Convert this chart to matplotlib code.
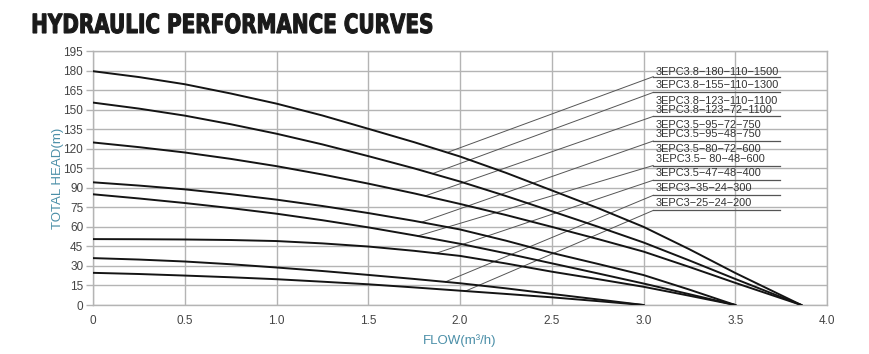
import numpy as np
import matplotlib
matplotlib.use("Agg")
from matplotlib import pyplot as plt
from matplotlib.patches import Rectangle, PathPatch
from matplotlib.textpath import TextPath
from matplotlib.font_manager import FontProperties
from matplotlib.transforms import Affine2D, IdentityTransform

# flow points (m3/h) for each pump family
flow_38 = [0, 0.25, 0.5, 0.75, 1.0, 1.25, 1.5, 1.75, 2.0, 2.25, 2.5, 2.75, 3.0, 3.25, 3.5, 3.86]
flow_35 = [0, 0.25, 0.5, 0.75, 1.0, 1.25, 1.5, 1.75, 2.0, 2.25, 2.5, 2.75, 3.0, 3.25, 3.5]
flow_30 = [0, 0.25, 0.5, 0.75, 1.0, 1.25, 1.5, 1.75, 2.0, 2.25, 2.5, 2.75, 3.0]

# head (m)
head_180 = [179.5, 175.0, 169.5, 162.4, 154.6, 145.5, 135.3, 125.0, 114.0, 101.5, 88.0, 74.5, 60.0, 42.8, 24.6, 0]
head_155 = [155.4, 150.8, 145.4, 138.8, 131.5, 123.3, 114.3, 104.9, 94.8, 83.7, 72.0, 60.2, 48.0, 34.2, 20.0, 0]
head_123 = [124.8, 121.2, 117.1, 112.2, 106.6, 100.2, 93.2, 85.7, 77.6, 69.1, 60.0, 50.7, 41.0, 29.2, 17.0, 0]
head_95 = [94.2, 91.7, 88.8, 85.1, 80.9, 76.0, 70.6, 64.6, 58.0, 49.4, 40.0, 31.6, 23.0, 11.8, 0]
head_80 = [85.0, 81.8, 78.3, 74.4, 70.1, 65.1, 59.6, 53.5, 47.0, 39.7, 32.0, 24.3, 16.5, 8.3, 0]
head_47 = [50.6, 50.5, 50.3, 49.9, 49.1, 47.3, 44.9, 41.6, 37.7, 31.9, 25.6, 19.9, 14.0, 7.1, 0]
head_35 = [36.0, 34.9, 33.4, 31.3, 28.8, 26.1, 23.1, 20.0, 16.7, 12.8, 8.5, 4.3, 0]
head_25 = [24.7, 23.8, 22.6, 21.3, 19.8, 17.9, 15.9, 13.5, 11.0, 8.5, 5.9, 3.0, 0]

curves = [
    (flow_38, head_180), (flow_38, head_155), (flow_38, head_123),
    (flow_35, head_95), (flow_35, head_80), (flow_35, head_47),
    (flow_30, head_35), (flow_30, head_25),
]

# model labels, grouped per curve
label_groups = [
    ["3EPC3.8\u2212180\u2212110\u22121500"],
    ["3EPC3.8\u2212155\u2212110\u22121300"],
    ["3EPC3.8\u2212123\u2212110\u22121100", "3EPC3.8\u2212123\u221272\u22121100"],
    ["3EPC3.5\u221295\u221272\u2212750", "3EPC3.5\u221295\u221248\u2212750"],
    ["3EPC3.5\u221280\u221272\u2212600", "3EPC3.5\u2212 80\u221248\u2212600"],
    ["3EPC3.5\u221247\u221248\u2212400"],
    ["3EPC3\u221235\u221224\u2212300"],
    ["3EPC3\u221225\u221224\u2212200"],
]

# where each leader line touches its curve
anchor_flow = [1.93, 1.85, 1.81, 1.79, 1.77, 1.87, 1.92, 2.03]

x_ticks = [0, 0.5, 1.0, 1.5, 2.0, 2.5, 3.0, 3.5, 4.0]
x_ticklabels = ["0", "0.5", "1.0", "1.5", "2.0", "2.5", "3.0", "3.5", "4.0"]
y_ticks = list(range(0, 196, 15))

plt.rcParams["font.family"] = ["Liberation Sans", "DejaVu Sans"]

fig = plt.figure(figsize=(8.7, 3.54), dpi=100)
ax = fig.add_axes([0.1069, 0.1384, 0.8437, 0.7175])

grid_col = "#b4b4b4"
ax.set_xlim(0, 4.0)
ax.set_ylim(0, 195)
ax.set_xticks(x_ticks)
ax.set_xticklabels(x_ticklabels)
ax.set_yticks(y_ticks)
ax.grid(True, color=grid_col, linewidth=1.0, zorder=0)
for s in ax.spines.values():
    s.set_color(grid_col)
    s.set_linewidth(1.0)
ax.tick_params(axis="y", length=5, width=1, color=grid_col, labelsize=8.5,
               labelcolor="#444444", pad=2)
ax.tick_params(axis="x", length=0, labelsize=8.5, labelcolor="#444444", pad=7)

axis_col = "#4b8fa8"
ax.set_ylabel("TOTAL HEAD(m)", color=axis_col, fontsize=9.5)
ax.yaxis.set_label_coords(-0.040, 0.5)
ax.set_xlabel("FLOW(m³/h)", color=axis_col, fontsize=9.5, labelpad=5)

# white panel that hides the grid behind the labels
ax.add_patch(Rectangle((3.05, 71.0), 0.705, 114.0, facecolor="white",
                       edgecolor="none", zorder=1))

for fl, hd in curves:
    ax.plot(fl, hd, color="#141414", linewidth=1.4, zorder=3)

# label text rows and underline heights (m), top to bottom
row_h = [178.7, 168.7, 157.0, 149.5, 138.5, 131.0, 120.0, 112.3, 101.0, 89.9, 78.4]
line_h = [175.3, 163.2, 144.8, 125.9, 107.1, 95.8, 84.2, 72.6]

k = 0
for i, group in enumerate(label_groups):
    for name in group:
        ax.text(3.068, row_h[k], name, fontsize=7.9, color="#333333",
                va="center", ha="left", zorder=4)
        k += 1
    ax.plot([3.053, 3.745], [line_h[i], line_h[i]], color="#555555",
            linewidth=0.9, zorder=4)
    fl, hd = curves[i]
    ay = np.interp(anchor_flow[i], fl, hd)
    ax.plot([anchor_flow[i], 3.053], [ay, line_h[i]], color="#555555",
            linewidth=0.7, zorder=2)

# condensed heavy title, squeezed horizontally
title_path = TextPath((0, 0), "HYDRAULIC PERFORMANCE CURVES", size=26.4,
                      prop=FontProperties(family="DejaVu Sans", weight="bold"))
ext = title_path.get_extents()
sx = 399.0 / ext.width
title_tf = Affine2D().translate(-ext.x0, 0).scale(sx, 1.0).translate(33, 354 - 33)
fig.patches.append(PathPatch(title_path, transform=title_tf + IdentityTransform(),
                             facecolor="#1a1a1a", edgecolor="#1a1a1a",
                             linewidth=0.8))

fig.savefig("out.png", dpi=100)
